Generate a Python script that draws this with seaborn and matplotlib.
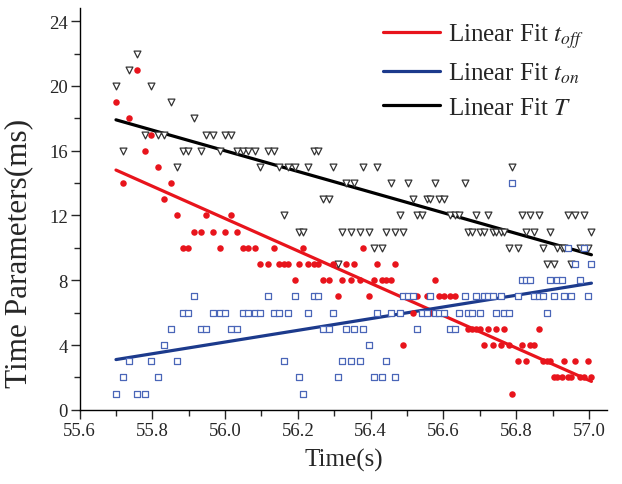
import matplotlib
matplotlib.use('Agg')
import matplotlib.pyplot as plt
from matplotlib.ticker import MultipleLocator
import numpy as np
import pandas as pd
import seaborn as sns

# values
time = [55.700, 55.719, 55.737, 55.758, 55.779, 55.796, 55.815, 55.833, 55.852, 55.868,
        55.883, 55.899, 55.915, 55.934, 55.948, 55.966, 55.985, 56.000, 56.017, 56.034,
        56.049, 56.064, 56.081, 56.096, 56.117, 56.133, 56.149, 56.162, 56.174, 56.191,
        56.202, 56.214, 56.227, 56.243, 56.256, 56.270, 56.286, 56.296, 56.310, 56.320,
        56.331, 56.345, 56.355, 56.371, 56.380, 56.396, 56.408, 56.417, 56.431, 56.443,
        56.457, 56.466, 56.481, 56.490, 56.504, 56.516, 56.528, 56.540, 56.554, 56.563,
        56.577, 56.589, 56.603, 56.617, 56.632, 56.644, 56.659, 56.668, 56.680, 56.690,
        56.701, 56.712, 56.724, 56.736, 56.746, 56.758, 56.767, 56.780, 56.789, 56.806,
        56.815, 56.827, 56.838, 56.850, 56.863, 56.873, 56.885, 56.893, 56.904, 56.913,
        56.925, 56.932, 56.942, 56.952, 56.963, 56.975, 56.986, 56.998, 57.007]
t_off = [19, 14, 18, 21, 16, 17, 15, 13, 14, 12,
         10, 10, 11, 11, 12, 11, 10, 11, 12, 11,
         10, 10, 10, 9, 9, 10, 9, 9, 9, 8,
         9, 10, 9, 9, 9, 8, 8, 9, 7, 8,
         9, 8, 9, 8, 10, 7, 8, 9, 8, 8,
         8, 9, 6, 4, 7, 6, 7, 6, 7, 6,
         8, 7, 7, 7, 7, 6, 7, 5, 5, 5,
         5, 4, 5, 4, 5, 4, 5, 4, 1, 3,
         4, 3, 4, 4, 5, 3, 3, 3, 2, 2,
         2, 3, 2, 2, 3, 2, 2, 3, 2]
t_on = [1, 2, 3, 1, 1, 3, 2, 4, 5, 3,
        6, 6, 7, 5, 5, 6, 6, 6, 5, 5,
        6, 6, 6, 6, 7, 6, 6, 3, 6, 7,
        2, 1, 6, 7, 7, 5, 5, 6, 2, 3,
        5, 3, 5, 3, 5, 4, 2, 6, 2, 3,
        6, 2, 6, 7, 7, 7, 5, 6, 6, 7,
        6, 6, 6, 5, 5, 6, 7, 6, 6, 7,
        6, 7, 7, 7, 6, 7, 6, 6, 14, 7,
        8, 8, 8, 7, 7, 7, 6, 8, 7, 8,
        8, 7, 10, 7, 9, 8, 10, 7, 9]
T_total = [20, 16, 21, 22, 17, 20, 17, 17, 19, 15,
           16, 16, 18, 16, 17, 17, 16, 17, 17, 16,
           16, 16, 16, 15, 16, 16, 15, 12, 15, 15,
           11, 11, 15, 16, 16, 13, 13, 15, 9, 11,
           14, 11, 14, 11, 15, 11, 10, 15, 10, 11,
           14, 11, 12, 11, 14, 13, 12, 12, 13, 13,
           14, 13, 13, 12, 12, 12, 14, 11, 11, 12,
           11, 11, 12, 11, 11, 11, 11, 10, 15, 10,
           12, 11, 12, 11, 12, 10, 9, 11, 9, 10,
           10, 10, 12, 9, 12, 10, 12, 10, 11]

df = pd.DataFrame({"time": time, "t_off": t_off, "t_on": t_on, "T": T_total})

sns.set_style("white")
plt.rcParams['font.family'] = ['Liberation Serif', 'DejaVu Serif']
plt.rcParams['mathtext.fontset'] = 'stix'

RED = '#e8141c'
BLUE = '#1c3a8c'
SQ = '#4a66b8'

fig = plt.figure(figsize=(6.22, 4.85), dpi=100)
ax = fig.add_axes([0.128, 0.153, 0.848, 0.828])

sns.regplot(data=df, x="time", y="t_off", scatter=False, ci=None, ax=ax,
            label=r"Linear Fit $t_{off}$", line_kws=dict(color=RED, lw=2.3))
sns.regplot(data=df, x="time", y="t_on", scatter=False, ci=None, ax=ax,
            label=r"Linear Fit $t_{on}$", line_kws=dict(color=BLUE, lw=2.3))
sns.regplot(data=df, x="time", y="T", scatter=False, ci=None, ax=ax,
            label=r"Linear Fit $T$", line_kws=dict(color='black', lw=2.3))

sns.scatterplot(data=df, x="time", y="T", marker='v', s=24, facecolor='white',
                edgecolor='#333333', linewidth=0.9, ax=ax, zorder=3)
sns.scatterplot(data=df, x="time", y="t_off", marker='o', s=22, color=RED,
                edgecolor=RED, linewidth=0, ax=ax, zorder=3)
sns.scatterplot(data=df, x="time", y="t_on", marker='s', s=15, facecolor='white',
                edgecolor=SQ, linewidth=0.9, ax=ax, zorder=3)

ax.set_xlim(55.6, 57.05)
ax.set_ylim(0, 24.8)
ax.xaxis.set_major_locator(MultipleLocator(0.2))
ax.xaxis.set_minor_locator(MultipleLocator(0.1))
ax.yaxis.set_major_locator(MultipleLocator(4))
ax.yaxis.set_minor_locator(MultipleLocator(2))
ax.xaxis.set_major_formatter(matplotlib.ticker.FormatStrFormatter('%.1f'))

for s in ['top', 'right']:
    ax.spines[s].set_visible(False)
for s in ['left', 'bottom']:
    ax.spines[s].set_color('black')
    ax.spines[s].set_linewidth(1.0)
ax.tick_params(which='major', direction='out', length=6.5, width=1, labelsize=13.5,
               bottom=True, left=True, pad=2)
ax.tick_params(which='minor', direction='out', length=4, width=1, bottom=True, left=True)

ax.set_xlabel("Time(s)", fontsize=18, labelpad=7)
ax.set_ylabel("Time Parameters(ms)", fontsize=22.5)
ax.yaxis.set_label_coords(-0.088, 0.393)

ax.legend(loc='upper left', frameon=False, fontsize=18, handlelength=2.3,
          handletextpad=0.3, labelspacing=0.45, borderpad=0, borderaxespad=0,
          bbox_to_anchor=(383 / 622, 1 - 22 / 485), bbox_transform=fig.transFigure)

fig.savefig("out.png", dpi=100, facecolor='white')
plt.close()
